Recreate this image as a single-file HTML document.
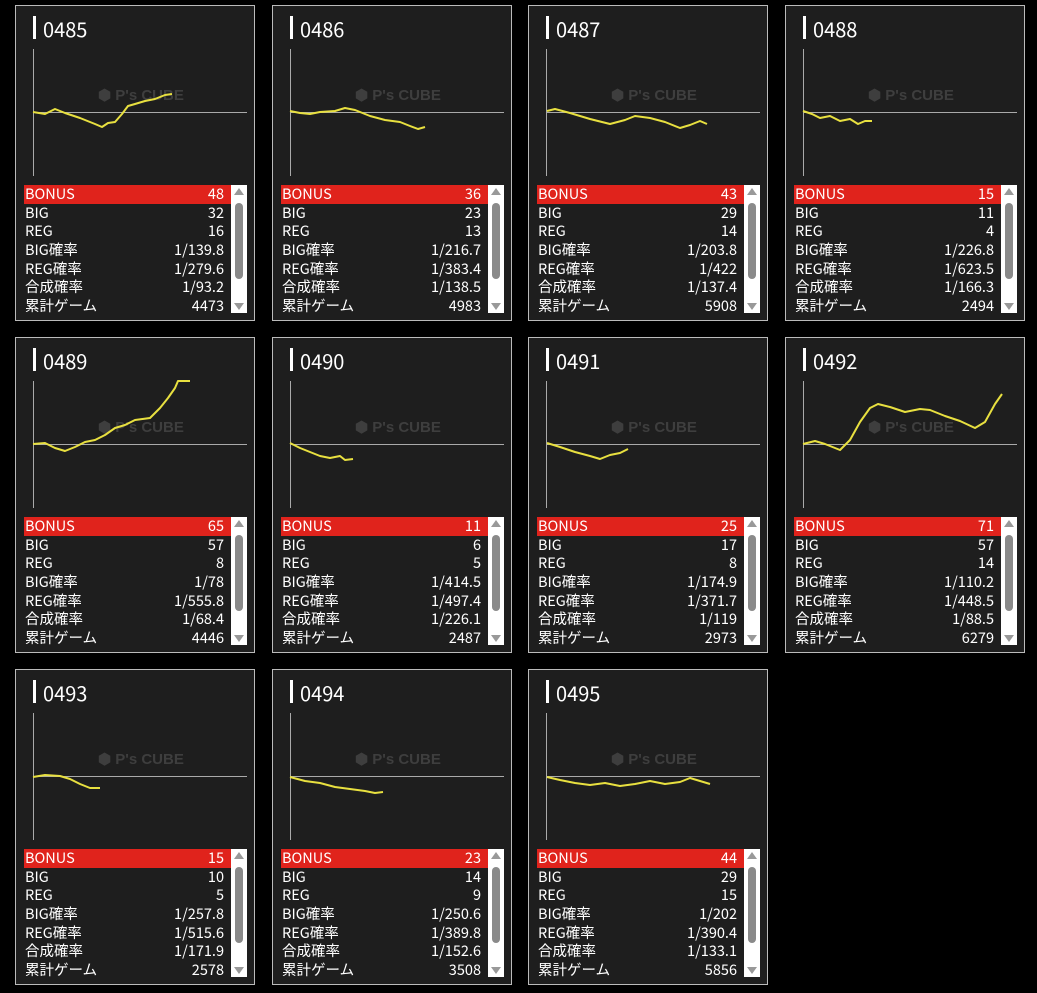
<!DOCTYPE html>
<html><head><meta charset="utf-8"><style>
body{margin:0;width:1037px;height:993px;background:#000;position:relative;overflow:hidden;font-family:"Liberation Sans","Noto Sans CJK JP",sans-serif;color:#fff}
.c{position:absolute;width:238px;height:314px;border:1px solid #bbb;background:#1e1e1e}
.bar{position:absolute;left:17px;top:10px;width:3px;height:23px;background:#fff}
.t{position:absolute;left:27px;top:8px;font-size:20px;font-family:"Noto Sans CJK JP","Liberation Sans",sans-serif}
.ax{position:absolute;left:17px;top:43px;width:1px;height:127px;background:#aaa}
.zl{position:absolute;left:17px;top:106px;width:214px;height:1px;background:#aaa}
.wm{position:absolute;left:82px;top:80px;color:#3e3e3e;font-weight:bold;font-size:15px}
.tb{position:absolute;left:8px;top:179px;width:207px;font-size:14.5px;font-family:"Noto Sans CJK JP","Liberation Sans",sans-serif}
.r{height:18.7px;line-height:18.7px;display:flex;justify-content:space-between;padding:0 7px 0 1px}
.r.h{background:#e0231c}
.sb{position:absolute;left:215px;top:179px;width:16px;height:128px;background:#fff}
.th{position:absolute;left:4px;top:18px;width:8px;height:76px;background:#8a8a8a;border-radius:4px}
.up{position:absolute;left:3px;top:3px;border:5px solid transparent;border-bottom:7px solid #999;border-top:0}
.dn{position:absolute;left:3px;bottom:3px;border:5px solid transparent;border-top:7px solid #999;border-bottom:0}
svg{position:absolute;left:0;top:0}
</style></head><body>
<div class="c" style="left:15px;top:5px"><div class="bar"></div><div class="t">0485</div><div class="ax"></div><div class="zl"></div><div class="wm">⬢ P's CUBE</div><div class="tb"><div class="r h"><span>BONUS</span><span>48</span></div><div class="r"><span>BIG</span><span>32</span></div><div class="r"><span>REG</span><span>16</span></div><div class="r"><span>BIG確率</span><span>1/139.8</span></div><div class="r"><span>REG確率</span><span>1/279.6</span></div><div class="r"><span>合成確率</span><span>1/93.2</span></div><div class="r"><span>累計ゲーム</span><span>4473</span></div></div><div class="sb"><div class="up"></div><div class="th"></div><div class="dn"></div></div></div>
<div class="c" style="left:272px;top:5px"><div class="bar"></div><div class="t">0486</div><div class="ax"></div><div class="zl"></div><div class="wm">⬢ P's CUBE</div><div class="tb"><div class="r h"><span>BONUS</span><span>36</span></div><div class="r"><span>BIG</span><span>23</span></div><div class="r"><span>REG</span><span>13</span></div><div class="r"><span>BIG確率</span><span>1/216.7</span></div><div class="r"><span>REG確率</span><span>1/383.4</span></div><div class="r"><span>合成確率</span><span>1/138.5</span></div><div class="r"><span>累計ゲーム</span><span>4983</span></div></div><div class="sb"><div class="up"></div><div class="th"></div><div class="dn"></div></div></div>
<div class="c" style="left:528px;top:5px"><div class="bar"></div><div class="t">0487</div><div class="ax"></div><div class="zl"></div><div class="wm">⬢ P's CUBE</div><div class="tb"><div class="r h"><span>BONUS</span><span>43</span></div><div class="r"><span>BIG</span><span>29</span></div><div class="r"><span>REG</span><span>14</span></div><div class="r"><span>BIG確率</span><span>1/203.8</span></div><div class="r"><span>REG確率</span><span>1/422</span></div><div class="r"><span>合成確率</span><span>1/137.4</span></div><div class="r"><span>累計ゲーム</span><span>5908</span></div></div><div class="sb"><div class="up"></div><div class="th"></div><div class="dn"></div></div></div>
<div class="c" style="left:785px;top:5px"><div class="bar"></div><div class="t">0488</div><div class="ax"></div><div class="zl"></div><div class="wm">⬢ P's CUBE</div><div class="tb"><div class="r h"><span>BONUS</span><span>15</span></div><div class="r"><span>BIG</span><span>11</span></div><div class="r"><span>REG</span><span>4</span></div><div class="r"><span>BIG確率</span><span>1/226.8</span></div><div class="r"><span>REG確率</span><span>1/623.5</span></div><div class="r"><span>合成確率</span><span>1/166.3</span></div><div class="r"><span>累計ゲーム</span><span>2494</span></div></div><div class="sb"><div class="up"></div><div class="th"></div><div class="dn"></div></div></div>
<div class="c" style="left:15px;top:337px"><div class="bar"></div><div class="t">0489</div><div class="ax"></div><div class="zl"></div><div class="wm">⬢ P's CUBE</div><div class="tb"><div class="r h"><span>BONUS</span><span>65</span></div><div class="r"><span>BIG</span><span>57</span></div><div class="r"><span>REG</span><span>8</span></div><div class="r"><span>BIG確率</span><span>1/78</span></div><div class="r"><span>REG確率</span><span>1/555.8</span></div><div class="r"><span>合成確率</span><span>1/68.4</span></div><div class="r"><span>累計ゲーム</span><span>4446</span></div></div><div class="sb"><div class="up"></div><div class="th"></div><div class="dn"></div></div></div>
<div class="c" style="left:272px;top:337px"><div class="bar"></div><div class="t">0490</div><div class="ax"></div><div class="zl"></div><div class="wm">⬢ P's CUBE</div><div class="tb"><div class="r h"><span>BONUS</span><span>11</span></div><div class="r"><span>BIG</span><span>6</span></div><div class="r"><span>REG</span><span>5</span></div><div class="r"><span>BIG確率</span><span>1/414.5</span></div><div class="r"><span>REG確率</span><span>1/497.4</span></div><div class="r"><span>合成確率</span><span>1/226.1</span></div><div class="r"><span>累計ゲーム</span><span>2487</span></div></div><div class="sb"><div class="up"></div><div class="th"></div><div class="dn"></div></div></div>
<div class="c" style="left:528px;top:337px"><div class="bar"></div><div class="t">0491</div><div class="ax"></div><div class="zl"></div><div class="wm">⬢ P's CUBE</div><div class="tb"><div class="r h"><span>BONUS</span><span>25</span></div><div class="r"><span>BIG</span><span>17</span></div><div class="r"><span>REG</span><span>8</span></div><div class="r"><span>BIG確率</span><span>1/174.9</span></div><div class="r"><span>REG確率</span><span>1/371.7</span></div><div class="r"><span>合成確率</span><span>1/119</span></div><div class="r"><span>累計ゲーム</span><span>2973</span></div></div><div class="sb"><div class="up"></div><div class="th"></div><div class="dn"></div></div></div>
<div class="c" style="left:785px;top:337px"><div class="bar"></div><div class="t">0492</div><div class="ax"></div><div class="zl"></div><div class="wm">⬢ P's CUBE</div><div class="tb"><div class="r h"><span>BONUS</span><span>71</span></div><div class="r"><span>BIG</span><span>57</span></div><div class="r"><span>REG</span><span>14</span></div><div class="r"><span>BIG確率</span><span>1/110.2</span></div><div class="r"><span>REG確率</span><span>1/448.5</span></div><div class="r"><span>合成確率</span><span>1/88.5</span></div><div class="r"><span>累計ゲーム</span><span>6279</span></div></div><div class="sb"><div class="up"></div><div class="th"></div><div class="dn"></div></div></div>
<div class="c" style="left:15px;top:669px"><div class="bar"></div><div class="t">0493</div><div class="ax"></div><div class="zl"></div><div class="wm">⬢ P's CUBE</div><div class="tb"><div class="r h"><span>BONUS</span><span>15</span></div><div class="r"><span>BIG</span><span>10</span></div><div class="r"><span>REG</span><span>5</span></div><div class="r"><span>BIG確率</span><span>1/257.8</span></div><div class="r"><span>REG確率</span><span>1/515.6</span></div><div class="r"><span>合成確率</span><span>1/171.9</span></div><div class="r"><span>累計ゲーム</span><span>2578</span></div></div><div class="sb"><div class="up"></div><div class="th"></div><div class="dn"></div></div></div>
<div class="c" style="left:272px;top:669px"><div class="bar"></div><div class="t">0494</div><div class="ax"></div><div class="zl"></div><div class="wm">⬢ P's CUBE</div><div class="tb"><div class="r h"><span>BONUS</span><span>23</span></div><div class="r"><span>BIG</span><span>14</span></div><div class="r"><span>REG</span><span>9</span></div><div class="r"><span>BIG確率</span><span>1/250.6</span></div><div class="r"><span>REG確率</span><span>1/389.8</span></div><div class="r"><span>合成確率</span><span>1/152.6</span></div><div class="r"><span>累計ゲーム</span><span>3508</span></div></div><div class="sb"><div class="up"></div><div class="th"></div><div class="dn"></div></div></div>
<div class="c" style="left:528px;top:669px"><div class="bar"></div><div class="t">0495</div><div class="ax"></div><div class="zl"></div><div class="wm">⬢ P's CUBE</div><div class="tb"><div class="r h"><span>BONUS</span><span>44</span></div><div class="r"><span>BIG</span><span>29</span></div><div class="r"><span>REG</span><span>15</span></div><div class="r"><span>BIG確率</span><span>1/202</span></div><div class="r"><span>REG確率</span><span>1/390.4</span></div><div class="r"><span>合成確率</span><span>1/133.1</span></div><div class="r"><span>累計ゲーム</span><span>5856</span></div></div><div class="sb"><div class="up"></div><div class="th"></div><div class="dn"></div></div></div>
<svg width="1037" height="993" fill="none" stroke="#e8e040" stroke-width="2" stroke-linejoin="round">
<polyline points="33,112 45,114 55,109 65,113 80,118 95,124 102,127 108,123 115,122 122,114 128,106 135,104 145,101 155,99 165,95 172,94"/>
<polyline points="290,111 300,113 310,114 320,112 335,111 345,108 355,110 370,116 385,120 400,122 410,126 418,129 425,127"/>
<polyline points="547,111 555,109 570,113 590,119 610,124 625,120 635,116 650,118 665,122 680,128 690,125 700,121 707,124"/>
<polyline points="803,111 812,114 820,118 830,116 840,121 850,119 858,124 865,121 872,121"/>
<polyline points="33,444 45,443 55,448 65,451 75,447 85,442 95,440 105,435 115,428 125,425 135,420 150,418 160,408 168,398 175,388 178,381 190,381"/>
<polyline points="290,443 300,448 310,452 320,456 330,458 340,456 345,460 353,459"/>
<polyline points="547,443 560,447 575,452 590,456 600,459 610,455 620,453 628,449"/>
<polyline points="803,444 815,441 825,444 840,450 850,440 860,422 870,408 878,404 890,407 905,412 920,409 930,410 945,416 960,421 975,428 985,422 995,404 1002,394"/>
<polyline points="33,777 45,775 60,776 70,779 80,784 90,788 100,788"/>
<polyline points="290,777 305,781 320,783 335,787 350,789 365,791 375,793 383,792"/>
<polyline points="547,777 560,780 575,783 590,785 605,783 620,786 635,784 650,781 665,784 680,782 690,778 700,781 710,784"/>
</svg>
</body></html>
